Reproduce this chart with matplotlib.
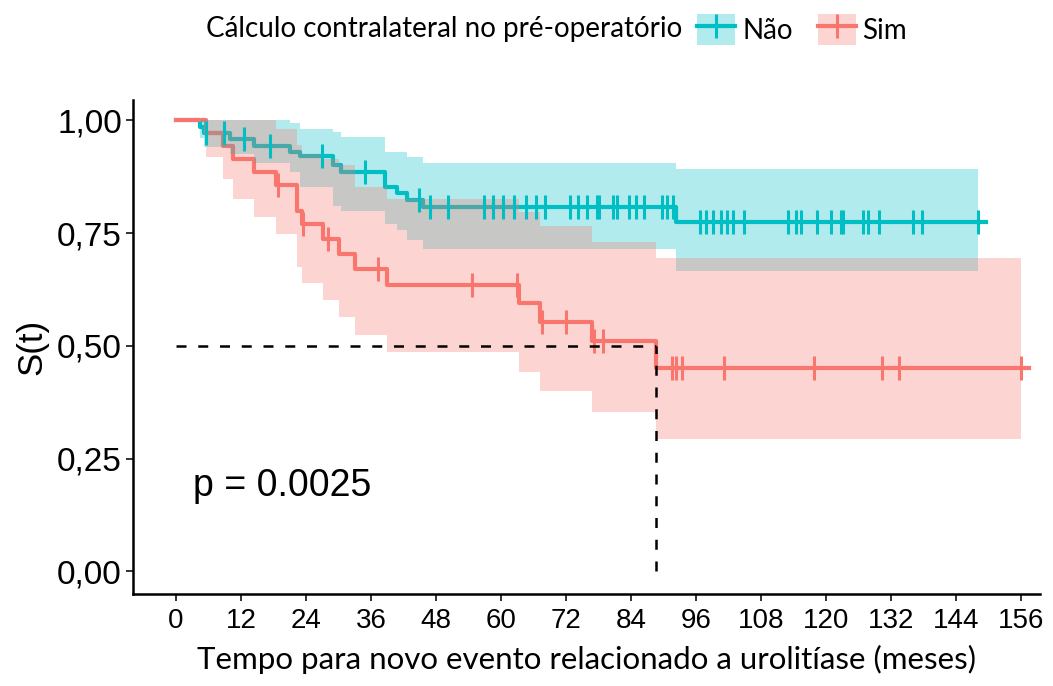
import numpy as np
import matplotlib.pyplot as plt
from matplotlib.patches import Patch
from matplotlib.lines import Line2D

# Não (no contralateral stone) - event times, KM estimate and 95% CI
nao_time = [0, 4.5, 5.2, 10.0, 14.5, 21.0, 23.0, 29.0, 30.5, 38.6, 40.8, 42.6, 45.6, 92.4]
nao_surv = [1.0, 0.986, 0.972, 0.958, 0.944, 0.930, 0.920, 0.900, 0.885, 0.852, 0.838, 0.823, 0.807, 0.7745]
nao_upper = [1.0, 1.0, 1.0, 1.0, 1.0, 0.993, 0.981, 0.975, 0.963, 0.930, 0.930, 0.919, 0.905, 0.891]
nao_lower = [1.0, 0.960, 0.940, 0.925, 0.905, 0.885, 0.852, 0.811, 0.800, 0.771, 0.756, 0.734, 0.7155, 0.667]
nao_censor = [5.6, 8.9, 12.5, 17.4, 26.9, 34.9, 44.8, 46.9, 50.2, 56.9, 58.5, 60.4, 62.5, 64.6,
              66.5, 68.2, 72.7, 74.3, 75.8, 77.7, 78.1, 80.7, 81.4, 83.7, 85.0, 86.4, 89.7, 90.6,
              91.8, 96.7, 97.9, 99.2, 100.6, 101.7, 102.8, 104.9, 112.9, 114.4, 115.3, 118.4,
              120.9, 122.7, 123.2, 126.9, 127.8, 129.7, 136.1, 137.8, 148.1]

# Sim (contralateral stone)
sim_time = [0, 5.6, 8.7, 10.6, 14.4, 18.4, 22.3, 23.2, 27.2, 30.1, 33.0, 38.9, 63.3, 67.2, 76.9, 88.7]
sim_surv = [1.0, 0.971, 0.943, 0.914, 0.886, 0.857, 0.800, 0.771, 0.738, 0.704, 0.670, 0.634,
            0.595, 0.554, 0.511, 0.452]
sim_upper = [1.0, 1.0, 1.0, 1.0, 1.0, 0.980, 0.945, 0.925, 0.915, 0.900, 0.852, 0.826,
             0.797, 0.765, 0.730, 0.6955]
sim_lower = [1.0, 0.919, 0.871, 0.826, 0.786, 0.749, 0.675, 0.639, 0.602, 0.564, 0.525, 0.486,
             0.442, 0.401, 0.3525, 0.293]
sim_censor = [18.8, 23.4, 28.1, 37.3, 54.6, 62.9, 67.5, 72.1, 77.2, 78.9, 91.5, 92.3, 93.5,
              101.2, 117.8, 130.4, 133.4, 156.0]

pval_text = "p = 0.0025"
x_ticks = list(range(0, 157, 12))
y_ticks = [0, 0.25, 0.5, 0.75, 1.0]
y_ticklabels = ["0,00", "0,25", "0,50", "0,75", "1,00"]

TEAL = "#00BFC4"
RED = "#F8766D"
LBL_FONT = ["Lato", "DejaVu Sans"]
AX_FONT = ["Liberation Sans", "DejaVu Sans"]

fig = plt.figure(figsize=(10.53, 6.86), dpi=100)
ax = fig.add_axes([0.1263, 0.1341, 0.8614, 0.7201])

groups = [
    (nao_time, nao_surv, nao_upper, nao_lower, nao_censor, TEAL),
    (sim_time, sim_surv, sim_upper, sim_lower, sim_censor, RED),
]


def km_at(times, surv, t):
    idx = np.searchsorted(times, t, side="right") - 1
    return np.asarray(surv)[idx]


for times, surv, up, lo, cens, col in groups:
    t_end = max(cens)
    tt = list(times) + [t_end]
    ax.step(tt, list(surv) + [surv[-1]], where="post", color=col, lw=3.0, zorder=2)

# ribbons drawn over the lines (as in the original)
for times, surv, up, lo, cens, col in groups:
    t_end = max(cens)
    tt = list(times) + [t_end]
    ax.fill_between(tt, list(lo) + [lo[-1]], list(up) + [up[-1]], step="post",
                    color=col, alpha=0.3, lw=0, zorder=3)

for times, surv, up, lo, cens, col in groups:
    ax.plot(cens, km_at(times, surv, cens), ls="none", marker="|", ms=17, mew=2.2,
            color=col, zorder=4)
    # small horizontal part of the "+" at the last mark
    ax.plot([max(cens), max(cens) + 1.5], [surv[-1]] * 2, color=col, lw=3.0, zorder=4)

# median survival line for Sim
med_idx = np.argmax(np.array(sim_surv) <= 0.5)
med_t = sim_time[med_idx]
ax.plot([0, med_t], [0.5, 0.5], color="black", ls=(0, (4, 4.7)), lw=1.8, zorder=5)
ax.plot([med_t, med_t], [0, 0.5], color="black", ls=(0, (4, 4.7)), lw=1.8, zorder=5)

ax.text(3.1, 0.19, pval_text, fontsize=27, family=AX_FONT, va="center", ha="left")

ax.set_xlim(-7.9, 159.5)
ax.set_ylim(-0.05, 1.045)
ax.set_xticks(x_ticks)
ax.set_xticklabels([str(x) for x in x_ticks], family=AX_FONT, fontsize=20)
ax.set_yticks(y_ticks)
ax.set_yticklabels(y_ticklabels, family=AX_FONT, fontsize=24)
ax.tick_params(axis="both", length=5, width=1.4, color="#333333", pad=3)
ax.tick_params(axis="x", pad=5)
for side in ["top", "right"]:
    ax.spines[side].set_visible(False)
for side in ["left", "bottom"]:
    ax.spines[side].set_linewidth(1.8)

ax.set_xlabel("Tempo para novo evento relacionado a urolitíase (meses)", family=LBL_FONT,
              fontsize=22.5, labelpad=8)
ax.set_ylabel("S(t)", family=AX_FONT, fontsize=25, labelpad=6)

# legend on top
fig.text(0.196, 0.957, "Cálculo contralateral no pré-operatório", family=LBL_FONT,
         fontsize=20, va="center", ha="left")
handles = [
    (Patch(facecolor=TEAL, alpha=0.3, lw=0),
     Line2D([], [], color=TEAL, lw=3.0, marker="+", ms=17, mew=2.2)),
    (Patch(facecolor=RED, alpha=0.3, lw=0),
     Line2D([], [], color=RED, lw=3.0, marker="+", ms=17, mew=2.2)),
]
fig.legend(handles, ["Não", "Sim"], ncol=2, loc="center left", bbox_to_anchor=(0.662, 0.957),
           frameon=False, prop={"family": LBL_FONT, "size": 20}, handlelength=1.37,
           handleheight=1.37, handletextpad=0.25, columnspacing=0.9, borderpad=0,
           borderaxespad=0)

fig.savefig("out.png", dpi=100)
plt.close(fig)
